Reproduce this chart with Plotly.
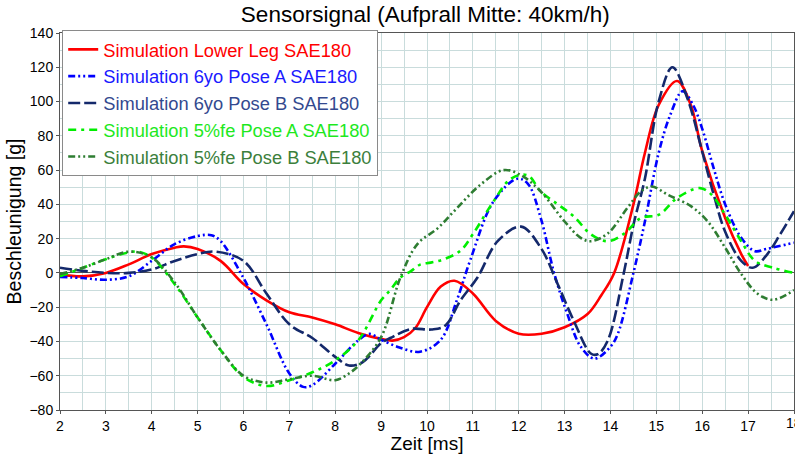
import plotly.graph_objects as go

# ---- data ----
t_red = [2, 2.5, 3, 3.5, 4, 4.5, 4.7, 5, 5.5, 6, 6.5, 7, 7.5, 8, 8.5, 9, 9.25, 9.5, 9.75, 10, 10.3, 10.6, 11, 11.5, 12, 12.5, 13, 13.5, 13.8, 14.08, 14.5, 14.75, 15.05, 15.45, 15.75, 16, 16.5, 16.85, 17]
v_red = [-1, -2, 0, 5, 11, 14.7, 15.5, 14, 7, -6.5, -16, -23, -26, -30, -35, -38.5, -39.5, -37.5, -32, -20, -8, -4.6, -12, -28, -35.5, -35.5, -31.7, -24, -13, 0, 40, 70, 98, 112, 98, 71, 32, 11, 4]

t_blue = [2, 2.5, 3, 3.5, 4, 4.5, 5, 5.3, 5.5, 6, 6.5, 7, 7.3, 7.5, 8, 8.5, 8.75, 9, 9.4, 9.85, 10.3, 10.65, 10.95, 11.45, 11.97, 12.2, 12.48, 12.77, 13.06, 13.35, 13.65, 14.0, 14.16, 14.5, 14.75, 15.05, 15.3, 15.57, 15.8, 16.0, 16.25, 16.5, 16.85, 17.15, 17.4, 18]
v_blue = [-2.3, -3, -4, -2, 7, 16.8, 21.5, 22, 18.6, -3, -30, -58.7, -66.5, -65.5, -53, -39.4, -35.6, -39, -43.5, -46, -39, -16, 8, 41.7, 55, 52, 32, 0, -24, -43, -50, -43, -35.5, 0, 30, 70, 92, 106, 98, 84, 61, 40, 20.5, 12.7, 14, 17.6]

t_navy = [2, 2.5, 3, 3.5, 4, 4.5, 5, 5.4, 6, 6.5, 7, 7.5, 8, 8.3, 8.6, 9, 9.2, 9.65, 10.1, 10.4, 10.73, 11.1, 11.54, 12.05, 12.48, 12.85, 13.2, 13.57, 13.72, 13.94, 14.29, 14.5, 14.75, 15.05, 15.35, 15.68, 16.0, 16.25, 16.5, 16.85, 17.1, 17.42, 17.7, 18]
v_navy = [3, 1.2, 0, 0, 2, 7, 11, 12.4, 7, -12, -30, -38, -49, -54, -52, -41, -38, -32.7, -33, -30.7, -16, -2.7, 18.5, 27, 14.7, -6.6, -28, -47, -47.5, -39.5, 0, 28, 55, 100, 120, 101.6, 70.7, 45.7, 24, 7, 3, 11, 22.6, 36]

t_lime = [2, 2.5, 3, 3.5, 3.7, 4, 4.5, 5, 5.5, 6, 6.5, 7, 7.5, 8, 8.5, 9, 9.2, 9.42, 9.65, 9.86, 10.08, 10.37, 10.73, 11.0, 11.45, 11.83, 12.19, 12.48, 12.85, 13.2, 13.57, 13.94, 14.3, 14.66, 15.06, 15.45, 15.95, 16.2, 16.5, 16.85, 17.15, 17.55, 18]
v_lime = [-2, 3, 8, 12, 12.4, 9, -6.6, -26, -45, -60.7, -66, -62.6, -58, -51, -39.4, -16, -10, -2.7, 1, 5, 6, 8, 13, 22.6, 41.7, 55, 57, 47.5, 40, 33, 22.6, 18.5, 23, 32, 34, 43.7, 49.5, 45.7, 34, 18.5, 7, 3, 0]

t_dkgreen = [2, 2.5, 3, 3.5, 4, 4.5, 5, 5.5, 6, 6.5, 7, 7.5, 8, 8.3, 8.55, 9.0, 9.42, 9.79, 10.23, 10.66, 11.17, 11.67, 12.05, 12.48, 13.0, 13.35, 13.57, 13.94, 14.37, 14.66, 14.9, 15.25, 15.76, 16.12, 16.5, 16.85, 17.2, 17.54, 18]
v_dkgreen = [-0.7, 3, 8, 12.4, 9, -5.6, -26, -45, -60, -64, -62, -60, -62.6, -58.7, -53, -37.5, -2.7, 16.8, 26, 38, 51.6, 60, 57, 47.5, 30, 20.5, 18.5, 23, 38, 47.5, 50.4, 45.6, 38.8, 30, 14.7, -0.6, -12, -15.7, -10]

x_ticks = list(range(2, 19))

names = [
    "Simulation Lower Leg SAE180",
    "Simulation 6yo Pose A SAE180",
    "Simulation 6yo Pose B SAE180",
    "Simulation 5%fe Pose A SAE180",
    "Simulation 5%fe Pose B SAE180",
]
colors = ["#ff0000", "#0000ff", "#14296b", "#00ee00", "#2e7d32"]
text_colors = ["#ff0000", "#1a1aff", "#33498f", "#1ee81e", "#3c7f3c"]
dashes = ["solid", "7px,3px,2px,3px,2px,3px", "12px,4px", "8px,5px,3px,5px", "7px,3px,2px,3px,2px,3px"]

series = [(t_red, v_red), (t_blue, v_blue), (t_navy, v_navy), (t_lime, v_lime), (t_dkgreen, v_dkgreen)]

fig = go.Figure()
for i, (tt, vv) in enumerate(series):
    fig.add_trace(go.Scatter(
        x=tt, y=vv, mode="lines",
        name=f'<span style="color:{text_colors[i]}">{names[i]}</span>',
        line=dict(color=colors[i], width=2.6, dash=dashes[i], shape="spline", smoothing=1.0),
    ))

# last tick label (partly outside the page, as in the reference)
fig.add_annotation(x=x_ticks[-1], xref="x", y=0, yref="paper", yanchor="top",
                   xanchor="center", yshift=-3, text=str(x_ticks[-1]),
                   showarrow=False, font=dict(size=14, color="black"))

grid_c = "#c9dcdc"
fig.update_layout(
    width=795, height=454,
    margin=dict(l=60, r=1, t=33, b=44),
    paper_bgcolor="white", plot_bgcolor="white",
    font=dict(family="Liberation Sans, Arial, sans-serif", color="black"),
    title=dict(text="Sensorsignal (Aufprall Mitte: 40km/h)", x=0.535, xanchor="center",
               y=0.968, yanchor="middle", font=dict(size=22.5, color="black")),
    showlegend=True,
    legend=dict(x=0.003, y=1.008, xanchor="left", yanchor="top",
                bgcolor="white", bordercolor="#8a8a8a", borderwidth=1,
                font=dict(size=18.3), itemwidth=30),
)
fig.update_xaxes(
    range=[2, 18.0001], tickmode="array", tickvals=x_ticks, ticktext=[str(v) for v in x_ticks],
    showgrid=True, gridcolor=grid_c, gridwidth=1,
    minor=dict(dtick=0.5, tick0=2, showgrid=True, gridcolor=grid_c, gridwidth=1),
    showline=True, mirror=True, linecolor="#555", linewidth=1,
    ticks="outside", ticklen=3, tickcolor="#555",
    tickfont=dict(size=14), zeroline=False, automargin=False,
    title=dict(text="Zeit [ms]", font=dict(size=19), standoff=0),
)
fig.update_yaxes(
    range=[-80, 140], dtick=20, showgrid=True, gridcolor=grid_c, gridwidth=1,
    minor=dict(dtick=10, showgrid=True, gridcolor=grid_c, gridwidth=1),
    showline=True, mirror=True, linecolor="#555", linewidth=1,
    ticks="outside", ticklen=3, tickcolor="#555",
    tickfont=dict(size=14), automargin=False,
    zeroline=True, zerolinecolor="#555", zerolinewidth=1,
    title=dict(text="Beschleunigung [g]", font=dict(size=19.5), standoff=2),
)

fig.write_html(
    "out.html",
    config={"displayModeBar": False},
    post_script="document.body.style.margin='0';document.body.style.overflow='hidden';",
)
